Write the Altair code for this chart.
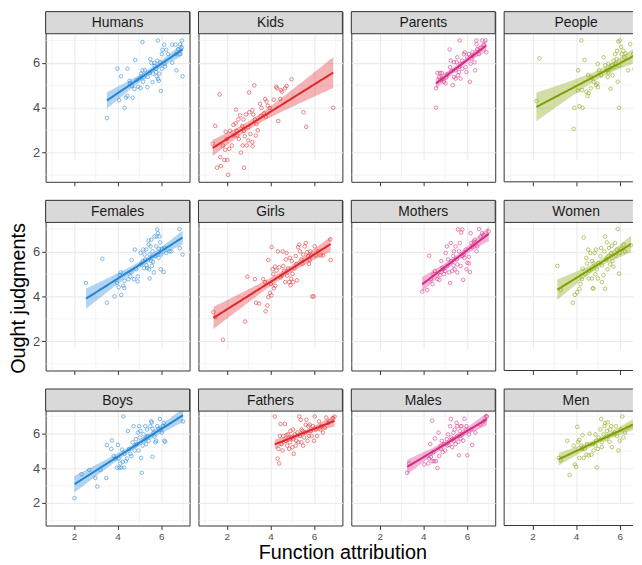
import numpy as np
import pandas as pd
import altair as alt

FONT = "Liberation Sans"
GRID = "#ebebeb"
BORDER = "#333333"

# ---- data (x = function attribution, y = ought judgments) ----
humans = [(3.51,3.54),(3.99,5.74),(4.16,5.40),(4.45,5.74),(4.07,4.34),(4.32,4.0),(4.38,4.45),(4.45,4.53),
          (4.69,4.45),(4.55,5.2),(4.81,6.13),(4.77,4.84),(4.94,4.94),(5.05,4.88),(5.14,6.93),(5.14,5.67),
          (5.08,5.52),(5.2,5.35),(5.37,4.92),(5.5,6.17),(5.55,5.99),(5.6,5.14),(5.7,5.87),(5.77,5.74),
          (5.79,5.40),(5.85,7.0),(5.86,5.29),(5.89,5.2),(5.98,4.75),(6.06,6.58),(6.03,6.39),(6.14,6.81),
          (6.23,6.58),(5.94,6.03),(5.82,6.1),(6.15,5.96),(6.18,5.84),(6.32,6.39),(6.51,6.01),(6.5,6.81),
          (6.66,6.81),(6.68,6.39),(6.7,5.67),(6.77,6.61),(6.86,6.83),(6.85,6.39),(6.95,7.0),(6.98,5.40),
          (6.94,6.68),(5.26,5.67),(5.38,5.38),(5.47,5.56),(5.62,5.52),(5.68,6.0),(5.77,5.59),(5.92,5.52),
          (6.03,5.74),(4.89,5.23),(5.02,5.32),(5.17,5.16),(4.66,4.97),(4.57,5.09)]
kids = [(1.35,2.4),(1.67,4.59),(1.47,3.19),(1.95,2.93),(1.55,1.33),(1.73,1.40),(1.89,1.67),(2.02,1.67),(2.06,1.01),
        (2.79,1.33),(1.70,1.80),(1.92,2.13),(2.11,2.17),(1.82,2.32),(2.23,2.32),(2.42,3.92),(2.61,3.66),
        (2.41,3.31),(2.45,2.97),(2.55,2.61),(2.65,2.0),(2.73,2.32),(2.82,2.73),(2.91,2.32),(2.98,2.54),
        (3.18,2.28),(2.98,3.12),(3.08,2.83),(3.17,2.47),(3.02,4.68),(3.26,5.0),(2.76,3.48),(2.88,3.70),
        (3.03,3.80),(3.17,3.89),(3.21,3.70),(3.29,3.48),(3.36,3.27),(3.42,3.0),(3.33,2.76),(3.52,4.18),
        (3.59,3.99),(3.76,4.39),(3.82,4.28),(3.88,4.09),(3.97,3.99),(3.70,3.75),(3.79,3.60),(3.55,3.63),
        (4.15,4.36),(4.27,4.94),(4.30,4.87),(4.48,4.79),(4.53,4.72),(4.67,4.87),(4.74,4.97),(4.97,5.27),
        (4.45,4.39),(4.36,3.41),(5.52,3.80),(5.64,3.15),(6.88,4.0),(2.53,3.48),(2.71,3.19),(2.79,2.97),
        (2.15,2.97),(2.30,2.76),(2.48,2.76),(2.30,3.24),(2.0,2.61)]
parents = [(4.58,4.0),(5.21,6.6),(5.67,7.0),(4.65,5.55),(4.77,5.55),(4.85,5.55),(4.73,5.37),(4.88,5.30),
           (4.95,5.16),(5.05,5.35),(5.11,5.49),(5.23,5.81),(5.29,5.64),(5.35,5.0),(5.41,5.37),(5.48,5.67),
           (5.53,6.03),(5.59,5.45),(5.64,5.81),(5.71,5.30),(5.79,6.1),(5.86,6.39),(5.91,6.47),(5.94,5.81),
           (5.98,5.59),(6.02,6.25),(6.09,6.39),(6.14,5.16),(6.17,5.96),(6.21,6.17),(6.26,6.47),(6.29,6.32),
           (6.35,6.03),(6.38,5.67),(6.44,7.0),(6.44,6.83),(6.47,6.61),(6.55,6.39),(6.70,7.0),(6.77,6.80),
           (6.85,7.0),(6.89,6.47),(6.62,6.68),(5.56,6.25),(5.41,6.03),(5.26,6.10),(5.71,5.96),(5.79,5.74),
           (5.64,5.59),(5.48,5.30),(4.80,5.23),(4.58,4.87),(5.02,5.08)]
people = [(2.32,6.2),(4.24,7.0),(3.89,3.06),(3.92,4.0),(4.15,4.07),(4.30,4.0),(5.97,4.0),(4.09,5.67),
          (4.39,6.13),(4.55,5.45),(4.08,4.76),(4.27,4.79),(4.47,4.72),(4.58,4.65),(4.52,4.53),(4.67,4.87),
          (4.91,5.01),(4.97,5.08),(5.0,4.91),(4.99,5.96),(5.26,6.25),(5.33,5.89),(5.41,5.67),(5.45,5.37),
          (5.48,5.55),(5.58,4.85),(5.64,5.89),(5.71,6.10),(5.79,6.39),(5.83,5.96),(5.88,6.54),(5.91,5.16),
          (5.94,6.95),(6.0,7.0),(6.06,6.71),(6.09,6.39),(6.17,6.54),(6.21,6.25),(6.27,6.42),(6.39,5.67),
          (6.48,6.83),(6.62,6.39),(6.67,5.74),(6.77,6.28),(6.82,7.0),(6.89,6.61),(5.05,5.67),(5.15,5.45),
          (5.56,5.74),(5.67,5.45),(5.76,5.81),(5.86,6.17),(5.97,5.89),(5.48,5.96),(4.80,5.16),(4.73,5.35),
          (2.18,4.3)]
females = [(2.55,4.60),(3.30,5.68),(3.51,3.72),(3.86,4.0),(3.97,4.60),(4.05,4.41),(4.11,4.95),(4.14,5.07),
           (4.17,4.07),(4.26,4.48),(4.31,4.38),(4.32,4.70),(4.50,4.77),(4.58,4.89),(4.63,5.07),(4.64,5.62),
           (4.75,4.77),(4.79,6.09),(4.85,5.21),(4.92,4.67),(4.93,4.89),(5.05,5.94),(5.08,5.43),(5.15,5.58),
           (5.18,6.09),(5.21,5.26),(5.24,5.87),(5.27,5.65),(5.30,6.09),(5.33,5.39),(5.36,5.27),(5.42,6.50),
           (5.44,5.21),(5.47,5.87),(5.47,4.80),(5.51,6.23),(5.54,5.58),(5.57,5.36),(5.60,6.01),(5.63,5.54),
           (5.66,5.07),(5.69,6.67),(5.73,5.80),(5.77,6.23),(5.79,6.67),(5.82,6.99),(5.85,6.82),(5.88,5.72),
           (5.89,6.12),(5.92,6.67),(5.95,6.41),(5.98,5.21),(6.0,5.87),(6.03,6.12),(6.11,5.09),(6.15,6.16),
           (6.23,5.94),(6.38,6.01),(6.46,6.01),(6.84,7.01),(6.85,6.15),(6.98,5.87),(5.54,6.53),(5.42,6.31)]
girls = [(1.82,2.07),(1.48,3.09),(2.84,2.88),(2.94,4.88),(3.34,3.72),(3.48,3.69),(3.29,4.77),(3.67,4.77),
         (3.75,4.64),(3.78,3.34),(3.86,3.60),(3.90,3.97),(3.98,4.16),(4.05,4.05),(4.02,4.55),(4.05,6.20),
         (3.90,5.62),(4.10,5.21),(4.13,4.99),(4.16,4.36),(4.22,4.48),(4.28,5.15),(4.34,6.01),(4.40,5.30),
         (4.46,4.85),(4.51,4.93),(4.56,6.01),(4.62,5.15),(4.68,4.64),(4.71,5.65),(4.77,4.93),(4.81,5.25),
         (4.86,4.64),(4.92,4.50),(4.95,4.79),(4.98,5.58),(5.01,5.01),(5.04,4.64),(5.10,5.25),(5.16,5.80),
         (5.19,5.45),(5.22,4.72),(5.27,6.20),(5.32,6.31),(5.35,6.01),(5.42,5.65),(5.47,5.45),(5.50,5.87),
         (5.57,6.23),(5.62,6.38),(5.68,5.97),(5.73,5.80),(5.77,5.45),(5.80,5.62),(5.83,6.01),(5.88,5.83),
         (5.92,4.0),(5.98,4.0),(6.03,6.23),(6.08,5.83),(6.18,6.01),(6.30,5.83),(6.41,5.83),(6.76,5.62),
         (6.75,6.55),(4.74,5.94),(4.89,5.72),(4.59,5.36),(4.21,5.33),(1.39,3.3)]
mothers = [(3.95,4.22),(4.18,4.28),(4.27,5.82),(4.42,4.55),(4.35,4.77),(4.47,4.99),(4.53,5.14),(4.65,4.77),
           (4.74,4.74),(4.77,4.95),(4.83,5.58),(4.88,5.28),(4.92,5.21),(4.95,4.99),(5.0,5.14),(5.03,5.94),
           (5.08,6.23),(5.11,5.36),(5.14,5.65),(5.18,5.07),(5.23,4.60),(5.26,6.38),(5.29,5.58),(5.33,5.14),
           (5.38,5.80),(5.41,6.01),(5.44,5.21),(5.48,6.23),(5.53,5.65),(5.56,5.43),(5.59,6.99),(5.64,6.01),
           (5.67,6.38),(5.71,5.36),(5.74,6.85),(5.79,6.99),(5.80,5.80),(5.83,4.74),(5.86,5.87),(5.89,5.72),
           (5.94,6.09),(5.98,5.21),(6.02,5.50),(6.09,5.77),(6.14,5.09),(6.17,6.82),(6.21,6.38),(6.24,6.20),
           (6.32,6.45),(6.36,6.53),(6.44,6.01),(6.47,6.23),(6.56,7.01),(6.62,6.67),(6.70,6.82),(6.77,6.74),
           (6.09,5.47),(5.56,5.07),(5.38,5.39),(7.0,6.9)]
women = [(3.14,5.36),(3.85,3.72),(3.94,4.07),(4.05,4.19),(4.15,4.34),(4.20,4.55),(4.35,6.63),(4.27,4.77),
         (4.30,5.24),(4.42,4.99),(4.47,5.72),(4.50,5.47),(4.55,6.09),(4.58,4.80),(4.65,5.94),(4.70,5.21),
         (4.73,4.80),(4.76,4.36),(4.80,5.47),(4.85,5.94),(4.88,4.99),(4.91,6.09),(4.95,5.21),(5.0,4.80),
         (5.03,5.50),(5.11,5.80),(5.15,6.16),(5.18,5.39),(5.26,4.95),(5.30,6.01),(5.33,6.67),(5.38,5.65),
         (5.41,6.41),(5.44,5.21),(5.48,5.80),(5.51,6.16),(5.56,5.43),(5.61,5.94),(5.64,6.26),(5.67,5.58),
         (5.71,5.33),(5.79,6.38),(5.82,5.80),(5.86,6.09),(5.91,7.01),(5.97,5.02),(6.0,5.94),(6.06,6.12),
         (6.17,6.31),(6.24,6.01),(6.52,6.28),(5.33,4.34),(5.18,4.64),(4.80,4.36),(4.73,5.58),(4.58,5.14),
         (3.29,4.3)]
boys = [(2.02,2.28),(2.34,3.66),(2.70,3.91),(2.98,3.44),(3.07,2.95),(3.21,3.91),(3.48,3.44),(3.51,5.35),
        (3.71,5.12),(3.74,5.61),(3.82,4.71),(3.89,4.56),(3.97,4.04),(4.02,5.35),(4.05,4.56),(4.08,4.04),
        (4.12,4.28),(4.17,4.04),(4.20,5.08),(4.23,4.37),(4.26,6.99),(4.29,4.04),(4.32,4.84),(4.38,4.41),
        (4.43,4.56),(4.47,6.15),(4.53,5.12),(4.58,4.84),(4.63,4.71),(4.69,5.50),(4.73,6.43),(4.78,5.03),
        (4.81,5.31),(4.84,5.68),(4.89,5.40),(4.93,6.06),(4.96,5.03),(4.99,6.43),(5.02,5.78),(5.05,6.15),
        (5.08,4.60),(5.11,3.74),(5.15,5.31),(5.19,5.96),(5.24,5.68),(5.27,6.43),(5.31,5.40),(5.35,6.24),
        (5.39,5.87),(5.42,5.59),(5.50,6.43),(5.54,6.71),(5.57,6.65),(5.60,4.67),(5.65,6.06),(5.69,5.83),
        (5.73,5.50),(5.77,5.59),(5.82,6.43),(5.88,6.28),(5.94,6.84),(5.97,6.24),(6.03,6.06),(6.08,6.43),
        (6.12,6.62),(6.18,5.53),(6.14,5.59),(5.60,6.28),(5.35,5.83),(7.0,6.7)]
fathers = [(4.20,6.99),(4.33,4.56),(4.40,4.28),(4.37,5.12),(4.43,5.87),(4.46,6.56),(4.51,5.40),(4.56,5.03),
           (4.66,6.56),(4.71,5.59),(4.77,5.31),(4.81,5.96),(4.86,5.12),(4.89,5.50),(4.92,6.15),(4.97,5.78),
           (5.01,5.22),(5.04,6.24),(5.07,4.84),(5.12,5.96),(5.16,5.31),(5.19,5.59),(5.24,6.06),(5.28,5.50),
           (5.32,6.99),(5.35,5.87),(5.39,6.80),(5.42,5.50),(5.47,6.15),(5.50,5.31),(5.54,5.78),(5.59,6.06),
           (5.65,6.80),(5.70,5.59),(5.74,6.43),(5.77,5.87),(5.80,6.52),(5.85,6.15),(5.89,5.87),(5.95,6.43),
           (6.0,5.59),(6.03,6.99),(6.08,6.24),(6.14,5.87),(6.23,6.71),(6.29,6.24),(6.33,6.43),(6.41,6.06),
           (6.49,6.34),(6.56,6.93),(6.64,6.62),(6.71,6.71),(6.87,6.90),(6.94,6.99),(4.59,5.87),(4.74,5.91),
           (5.04,5.68),(5.42,6.24),(5.62,6.52)]
males = [(3.26,3.74),(3.36,4.28),(4.05,4.22),(4.23,4.28),(4.32,5.40),(4.41,6.75),(4.42,4.41),(4.50,4.41),
         (4.58,4.41),(4.35,4.65),(4.27,4.56),(4.47,4.93),(4.53,5.72),(4.65,4.02),(4.70,6.06),(4.73,4.71),
         (4.80,5.12),(4.85,5.59),(4.89,4.93),(4.95,5.40),(5.0,5.03),(5.08,5.68),(5.14,5.96),(5.18,5.35),
         (5.23,6.43),(5.26,6.84),(5.29,5.78),(5.33,5.22),(5.38,6.06),(5.41,5.59),(5.44,6.24),(5.48,5.40),
         (5.53,6.62),(5.56,5.87),(5.61,5.53),(5.64,4.75),(5.68,6.15),(5.71,5.72),(5.76,6.43),(5.79,5.96),
         (5.83,5.59),(5.89,6.86),(5.94,6.24),(5.98,6.43),(6.02,4.75),(6.09,5.96),(6.20,6.24),(6.24,5.35),
         (6.39,6.06),(6.62,6.52),(6.77,6.71),(6.88,6.99),(6.92,6.99),(5.11,5.31),(5.33,5.68),(4.80,5.31),
         (5.56,6.43),(5.71,6.43)]
men = [(3.29,4.47),(3.59,5.59),(3.70,3.61),(3.94,4.22),(4.0,4.09),(4.05,6.39),(3.89,5.31),(4.09,5.53),
       (4.15,5.64),(4.15,4.60),(4.24,5.31),(4.30,5.91),(4.35,4.60),(4.39,5.12),(4.47,4.79),(4.50,5.40),
       (4.58,4.75),(4.62,6.0),(4.70,4.79),(4.76,5.40),(4.80,5.03),(4.88,5.31),(4.92,5.59),(4.95,4.04),
       (5.0,5.12),(5.03,5.78),(5.11,6.24),(5.15,6.84),(5.18,5.50),(5.26,5.96),(5.30,6.43),(5.33,6.62),
       (5.38,5.68),(5.41,6.15),(5.45,6.65),(5.48,5.87),(5.53,5.53),(5.56,6.24),(5.61,6.43),(5.64,5.22),
       (5.68,5.96),(5.76,6.06),(5.82,6.43),(5.88,5.87),(5.94,5.03),(6.0,5.59),(6.06,6.24),(6.12,6.99),
       (6.17,5.78),(6.24,6.06),(6.36,6.34),(6.55,6.43),(6.70,6.62),(6.95,6.90),(4.88,5.96),(5.18,5.22),
       (4.27,5.12),(3.21,4.6)]

panel_names = [["Humans", "Kids", "Parents", "People"],
               ["Females", "Girls", "Mothers", "Women"],
               ["Boys", "Fathers", "Males", "Men"]]
panel_data = {"Humans": humans, "Kids": kids, "Parents": parents, "People": people,
              "Females": females, "Girls": girls, "Mothers": mothers, "Women": women,
              "Boys": boys, "Fathers": fathers, "Males": males, "Men": men}
col_colors = ["#2185d6", "#e0262b", "#d62a86", "#7fa100"]
major_ticks = [2, 4, 6]
minor_ticks = [1, 3, 5, 7]
axis_domain = [0.7, 7.3]

PW = 145.3                 # full panel width
LAST_W = 130               # last column is cut off by the page edge, as in the original picture
STRIP_H = 22.3
ROW_H = [149.5, 149.5, 115.5]
COL_GAP = 6.3


def fit_band(pts):
    x = np.array([p[0] for p in pts])
    y = np.array([p[1] for p in pts])
    n = len(x)
    b1, b0 = np.polyfit(x, y, 1)
    g = np.linspace(x.min(), x.max(), 80)
    resid = y - (b0 + b1 * x)
    s = np.sqrt((resid ** 2).sum() / (n - 2))
    sxx = ((x - x.mean()) ** 2).sum()
    se = s * np.sqrt(1.0 / n + (g - x.mean()) ** 2 / sxx)
    fit = b0 + b1 * g
    return pd.DataFrame({"x": g, "fit": fit, "lo": fit - 1.99 * se, "hi": fit + 1.99 * se})


def make_panel(name, r, c):
    pts = panel_data[name]
    color = col_colors[c]
    last = (c == 3)
    w = LAST_W if last else PW
    xmax = axis_domain[0] + (axis_domain[1] - axis_domain[0]) * w / PW
    XS = alt.Scale(domain=[axis_domain[0], xmax], nice=False, zero=False)
    dfp = pd.DataFrame({"x": [p[0] for p in pts], "y": [p[1] for p in pts]})
    dff = fit_band(pts)
    minor = pd.DataFrame({"v": minor_ticks})
    label_df = pd.DataFrame({"name": [name]})
    total_h = ROW_H[r] + STRIP_H
    YS = alt.Scale(domain=axis_domain, nice=False, zero=False, range=[total_h, STRIP_H])

    xaxis = alt.Axis(values=major_ticks, labels=(r == 2), labelFontSize=10, labelColor="#4d4d4d",
                     labelPadding=2, labelFont=FONT, ticks=True, tickSize=4, tickColor=BORDER,
                     tickWidth=1, domain=False, grid=True, gridColor=GRID, gridWidth=1.1, title=None)
    if c == 0:
        yaxis = alt.Axis(values=major_ticks, labels=True, labelFontSize=13, labelColor="#4d4d4d",
                         labelPadding=2, labelFont=FONT, ticks=True, tickSize=4, tickColor=BORDER,
                         tickWidth=1, domain=False, grid=True, gridColor=GRID, gridWidth=1.1,
                         title=("Ought judgments" if r == 1 else None), titleFontSize=20,
                         titleFont=FONT, titleFontWeight="normal", titleColor="black", titlePadding=4,
                         titleY=STRIP_H + ROW_H[r] / 2 + 1.5)
    else:
        yaxis = alt.Axis(values=major_ticks, labels=False, ticks=False, domain=False, grid=True,
                         gridColor=GRID, gridWidth=1.1, title=None)

    def X(f):
        return alt.X(f, scale=XS, axis=xaxis)

    def Y(f):
        return alt.Y(f, scale=YS, axis=yaxis)

    vmin = alt.Chart(minor).mark_rule(color=GRID, strokeWidth=0.55, clip=True).encode(x=X("v:Q"))
    hmin = alt.Chart(minor).mark_rule(color=GRID, strokeWidth=0.55, clip=True).encode(y=Y("v:Q"))
    points = alt.Chart(dfp).mark_point(shape="circle", filled=False, size=13, strokeWidth=0.75,
                                       opacity=0.75, color=color, clip=True).encode(
        x=X("x:Q"), y=Y("y:Q"))
    band = alt.Chart(dff).mark_area(opacity=0.35, color=color, clip=True).encode(
        x=X("x:Q"), y=Y("lo:Q"), y2="hi:Q")
    line = alt.Chart(dff).mark_line(color=color, strokeWidth=2, clip=True).encode(
        x=X("x:Q"), y=Y("fit:Q"))
    # facet strip: top band of the view
    strip_bg = alt.Chart(label_df).mark_rect(
        fill="#d9d9d9", stroke=("transparent" if last else BORDER), strokeWidth=1).encode(
        x=alt.value(0), x2=alt.value(w), y=alt.value(0), y2=alt.value(STRIP_H))
    strip_tx = alt.Chart(label_df).mark_text(
        font=FONT, fontSize=14, color="#1a1a1a", baseline="middle", align="center").encode(
        text="name:N", x=alt.value(PW / 2), y=alt.value(STRIP_H / 2 + 0.5))
    layers = [vmin, hmin, points, band, line, strip_bg, strip_tx]

    if last:
        # border on left, top, strip bottom and panel bottom only (right side runs off the page)
        edge = alt.Chart(label_df)
        layers += [
            edge.mark_rule(color=BORDER, strokeWidth=1).encode(
                x=alt.value(0), y=alt.value(0), y2=alt.value(total_h)),
            edge.mark_rule(color=BORDER, strokeWidth=1).encode(
                x=alt.value(0), x2=alt.value(w), y=alt.value(0)),
            edge.mark_rule(color=BORDER, strokeWidth=1).encode(
                x=alt.value(0), x2=alt.value(w), y=alt.value(STRIP_H)),
            edge.mark_rule(color=BORDER, strokeWidth=1).encode(
                x=alt.value(0), x2=alt.value(w), y=alt.value(total_h)),
        ]
        view = alt.ViewBackground(fill="white", stroke="transparent")
    else:
        view = alt.ViewBackground(fill="white", stroke=BORDER, strokeWidth=1)

    return alt.layer(*layers).properties(width=w, height=total_h, view=view)


rows = []
for r in range(3):
    rows.append(alt.hconcat(*[make_panel(panel_names[r][c], r, c) for c in range(4)],
                            spacing=COL_GAP))
grid = alt.vconcat(*rows, spacing=12.5)

TW = 3 * PW + 3 * COL_GAP + LAST_W
xtitle = alt.Chart(pd.DataFrame({"t": ["Function attribution"]})).mark_text(
    font=FONT, fontSize=20, color="black", baseline="alphabetic", align="center").encode(
    text="t:N", x=alt.value(2 * PW + 1.5 * COL_GAP), y=alt.value(14)).properties(
    width=TW, height=16, view=alt.ViewBackground(stroke="transparent", fill="transparent"))

chart = alt.vconcat(grid, xtitle, spacing=0).properties(
    padding={"left": 0, "top": 0, "right": 0, "bottom": 0}
).configure(font=FONT, background="white")

chart.save("out.html", embed_options={"renderer": "svg", "actions": False})
